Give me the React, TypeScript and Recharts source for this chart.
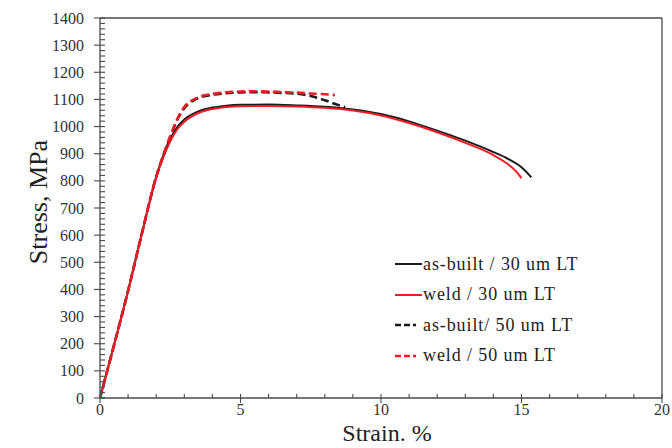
import { LineChart, Line, XAxis, YAxis, ReferenceLine } from "recharts";

// strain (%) / stress (MPa)
const asBuilt30Strain = [0, 0.5, 1.0, 1.5, 2.0, 2.25, 2.5, 2.75, 3.0, 3.5, 4.0, 4.5, 5.0, 6.0, 7.0, 8.0, 9.0, 10.0, 11.0, 12.0, 13.0, 14.0, 14.5, 15.0, 15.35];
const asBuilt30Stress = [0, 195, 395, 610, 815, 893, 955, 998, 1026, 1056, 1070, 1077, 1080, 1081, 1078, 1073, 1063, 1046, 1019, 985, 948, 906, 882, 850, 813];

const weld30Strain = [0, 0.5, 1.0, 1.5, 2.0, 2.25, 2.5, 2.75, 3.0, 3.5, 4.0, 4.5, 5.0, 6.0, 7.0, 8.0, 9.0, 10.0, 11.0, 12.0, 13.0, 14.0, 14.5, 14.8, 15.0];
const weld30Stress = [0, 195, 395, 610, 812, 886, 946, 990, 1018, 1050, 1065, 1072, 1075, 1076, 1074, 1069, 1059, 1041, 1013, 979, 940, 895, 863, 836, 810];

const asBuilt50Strain = [0, 0.5, 1.0, 1.5, 2.0, 2.25, 2.5, 2.75, 3.0, 3.25, 3.5, 4.0, 4.5, 5.0, 5.5, 6.0, 6.5, 7.0, 7.5, 8.0, 8.4, 8.72];
const asBuilt50Stress = [0, 195, 395, 610, 815, 893, 962, 1025, 1068, 1092, 1105, 1117, 1123, 1126, 1127, 1126, 1124, 1121, 1113, 1097, 1082, 1071];

const weld50Strain = [0, 0.5, 1.0, 1.5, 2.0, 2.25, 2.5, 2.75, 3.0, 3.25, 3.5, 4.0, 4.5, 5.0, 5.5, 6.0, 6.5, 7.0, 7.5, 8.0, 8.36];
const weld50Stress = [0, 195, 395, 610, 815, 893, 965, 1028, 1072, 1095, 1108, 1120, 1126, 1129, 1130, 1129, 1127, 1125, 1122, 1119, 1116];

const xMajorTicks = [0, 5, 10, 15, 20];
const yMajorTicks = [0, 100, 200, 300, 400, 500, 600, 700, 800, 900, 1000, 1100, 1200, 1300, 1400];

// minor tick marks: every 1 % strain, every 20 MPa
const xTicks = Array.from({ length: 21 }, (_, i) => i);
const yTicks = Array.from({ length: 71 }, (_, i) => i * 20);

const FONT = '"Liberation Serif", "Times New Roman", serif';
const AXIS = "#4a4a4a";
const RED = "#ee1c25";
const BLACK = "#1b1b1b";

const rows = (xs: number[], ys: number[]) => xs.map((x, i) => ({ strain: x, stress: ys[i] }));

const series = [
  { key: "ab30", label: "as-built / 30 um LT", color: BLACK, dashed: false, data: rows(asBuilt30Strain, asBuilt30Stress) },
  { key: "w30", label: "weld / 30 um LT", color: RED, dashed: false, data: rows(weld30Strain, weld30Stress) },
  { key: "ab50", label: "as-built/ 50 um LT", color: BLACK, dashed: true, data: rows(asBuilt50Strain, asBuilt50Stress) },
  { key: "w50", label: "weld / 50 um LT", color: RED, dashed: true, data: rows(weld50Strain, weld50Stress) },
];

function YTick({ x, y, payload }: any) {
  const v = payload.value;
  const major = yMajorTicks.includes(v);
  return (
    <g>
      <line x1={major ? x - 6 : x} x2={x + 5} y1={y} y2={y} stroke={AXIS} strokeWidth={1.1} />
      {major && (
        <text x={x - 16} y={y} dy="0.35em" textAnchor="end" fontFamily={FONT} fontSize={16} fill="#333">
          {v}
        </text>
      )}
    </g>
  );
}

function XTick({ x, y, payload }: any) {
  const v = payload.value;
  const major = xMajorTicks.includes(v);
  return (
    <g>
      <line x1={x} x2={x} y1={y - 4} y2={major ? y + 5 : y} stroke={AXIS} strokeWidth={1.1} />
      {major && (
        <text x={x} y={y + 17} textAnchor="middle" fontFamily={FONT} fontSize={16} fill="#333">
          {v}
        </text>
      )}
    </g>
  );
}

export default function App() {
  return (
    <div style={{ position: "absolute", left: 0, top: 0, width: 672, height: 448, background: "#fff" }}>
      <LineChart width={672} height={448} margin={{ top: 18, right: 10, bottom: 0, left: 0 }}>
        <XAxis
          type="number"
          dataKey="strain"
          domain={[0, 20]}
          ticks={xTicks}
          interval={0}
          height={50}
          tickSize={0}
          tickMargin={0}
          tickLine={false}
          tick={<XTick />}
          axisLine={{ stroke: AXIS, strokeWidth: 1.3 }}
          allowDataOverflow
          label={() => (
            <text x={387} y={441} textAnchor="middle" fontFamily={FONT} fontSize={24} fill="#222">
              Strain. %
            </text>
          )}
        />
        <YAxis
          type="number"
          dataKey="stress"
          domain={[0, 1400]}
          ticks={yTicks}
          interval={0}
          width={100}
          tickSize={0}
          tickMargin={0}
          tickLine={false}
          tick={<YTick />}
          axisLine={{ stroke: AXIS, strokeWidth: 1.3 }}
          allowDataOverflow
          label={() => (
            <text
              x={47}
              y={202}
              transform="rotate(-90, 47, 202)"
              textAnchor="middle"
              fontFamily={FONT}
              fontSize={26}
              fill="#222"
            >
              Stress, MPa
            </text>
          )}
        />
        <ReferenceLine y={1400} stroke={AXIS} strokeWidth={1.3} />
        <ReferenceLine x={20} stroke={AXIS} strokeWidth={1.3} />
        {series.map((s) => (
          <Line
            key={s.key}
            data={s.data}
            dataKey="stress"
            name={s.label}
            type="monotone"
            stroke={s.color}
            strokeWidth={s.dashed ? 2.6 : 2}
            strokeDasharray={s.dashed ? "8 4" : undefined}
            dot={false}
            activeDot={false}
            isAnimationActive={false}
          />
        ))}
      </LineChart>
      <div style={{ position: "absolute", left: 395, top: 249, fontFamily: FONT, fontSize: 18, letterSpacing: 0.9, color: "#222" }}>
        {series.map((s) => (
          <div key={s.key} style={{ display: "flex", alignItems: "center", height: 30.5 }}>
            <svg width={27} height={6} style={{ marginRight: 1 }}>
              <line
                x1={0}
                x2={27}
                y1={3}
                y2={3}
                stroke={s.color}
                strokeWidth={s.dashed ? 2.6 : 2}
                strokeDasharray={s.dashed ? "6 3 6 3 3" : undefined}
              />
            </svg>
            <span>{s.label}</span>
          </div>
        ))}
      </div>
    </div>
  );
}
